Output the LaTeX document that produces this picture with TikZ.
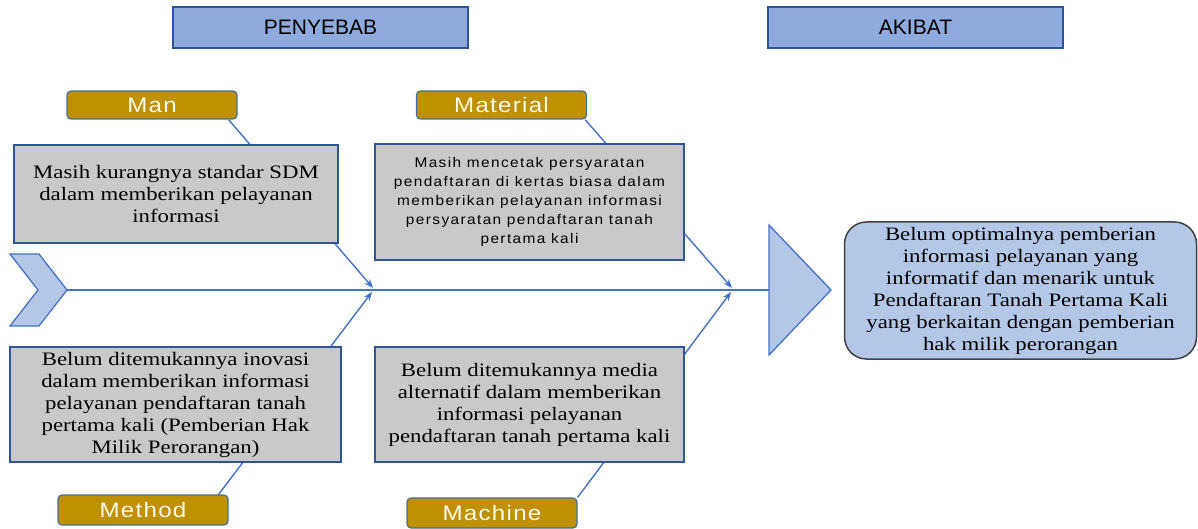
\documentclass[tikz,border=0pt]{standalone}
\usepackage{fontspec}
\setmainfont{Liberation Serif}
\newfontfamily\boxserif[FakeStretch=1.2]{Liberation Serif}
\newfontfamily\boxsans[FakeStretch=1.1,LetterSpace=10]{Liberation Sans}
\newfontfamily\labelsans[FakeStretch=1.15,LetterSpace=6]{Liberation Sans}
\newfontfamily\headsans{Liberation Sans}
\usetikzlibrary{arrows.meta,backgrounds}
\definecolor{hdrfill}{HTML}{8FAADC}
\definecolor{hdrborder}{HTML}{2F5597}
\definecolor{gold}{HTML}{BF9000}
\definecolor{lblborder}{HTML}{41719C}
\definecolor{grayfill}{HTML}{C9C9C9}
\definecolor{boxborder}{HTML}{2F5597}
\definecolor{bonecol}{HTML}{4472C4}
\definecolor{lightblue}{HTML}{B4C7E7}
\definecolor{effborder}{HTML}{404040}
\begin{document}
\begin{tikzpicture}[x=1pt,y=-1pt,
  header/.style={draw=hdrborder, line width=1.5pt, fill=hdrfill, minimum width=295pt,
    minimum height=41pt, inner sep=0pt, font=\headsans\fontsize{21}{25}\selectfont},
  cat/.style={draw=lblborder, line width=1.2pt, fill=gold, rounded corners=4pt,
    minimum width=170pt, minimum height=28pt, inner sep=0pt, text=white!95!gold,
    font=\labelsans\fontsize{21}{24}\selectfont},
  causebox/.style={draw=boxborder, line width=1.5pt, fill=grayfill, inner sep=0pt,
    align=center, font=\boxserif\fontsize{19}{22}\selectfont},
  bone/.style={draw=bonecol, line width=1.4pt},
  tip/.style={-{Stealth[length=9pt,width=7pt]}},
  shapecol/.style={draw=bonecol, line width=1.3pt, fill=lightblue, line join=miter}
]
\useasboundingbox (0,0) rectangle (1198,529);

% headers
\node[header] (penyebab) at (320.5,27.5) {PENYEBAB};
\node[header] (akibat) at (915.5,27.5) {AKIBAT};

% category labels
\node[cat] (man) at (152,105) {Man};
\node[cat] (material) at (501.5,105) {Material};
\node[cat, minimum height=30pt] (method) at (143,510) {Method};
\node[cat, minimum height=30pt] (machine) at (492,513) {Machine};

% cause boxes
\node[causebox, minimum width=324pt, minimum height=98pt] (manbox) at (176,194)
  {Masih kurangnya standar SDM\\ dalam memberikan pelayanan\\ informasi};
\node[causebox, minimum width=309pt, minimum height=116pt,
  font=\boxsans\fontsize{14}{19}\selectfont] (matbox) at (529.5,202)
  {Masih mencetak persyaratan\\ pendaftaran di kertas biasa dalam\\ memberikan pelayanan informasi\\ persyaratan pendaftaran tanah\\ pertama kali};
\node[causebox, minimum width=331pt, minimum height=115pt] (metbox) at (175.5,404.5)
  {Belum ditemukannya inovasi\\ dalam memberikan informasi\\ pelayanan pendaftaran tanah\\ pertama kali (Pemberian Hak\\ Milik Perorangan)};
\node[causebox, minimum width=309pt, minimum height=115pt] (macbox) at (529.5,404.5)
  {Belum ditemukannya media\\ alternatif dalam memberikan\\ informasi pelayanan\\ pendaftaran tanah pertama kali};

% chevron (tail) and triangle (head)
\draw[shapecol] (10,254) -- (39,254) -- (67,290) -- (39,326) -- (10,326) -- (38,290) -- cycle;
\draw[shapecol] (769,225) -- (831,290) -- (769,355) -- cycle;
\coordinate (chevtip) at (67,290);
\coordinate (trileft) at (769,290);

% effect box
\node[draw=effborder, line width=1.5pt, fill=lightblue, rounded corners=22pt,
  minimum width=352pt, minimum height=137pt, inner sep=0pt, align=center,
  font=\boxserif\fontsize{19}{22}\selectfont] (effect) at (1020.5,290.5)
  {Belum optimalnya pemberian\\ informasi pelayanan yang\\ informatif dan menarik untuk\\ Pendaftaran Tanah Pertama Kali\\ yang berkaitan dengan pemberian\\ hak milik perorangan};

% spine points
\coordinate (spAu) at (373,288);
\coordinate (spAd) at (372,292);
\coordinate (spBu) at (732,288);
\coordinate (spBd) at (731,292);

\begin{scope}[on background layer]
  \draw[bone] (chevtip) -- (trileft);
  \draw[bone,tip] ([xshift=-9pt]man.south east) -- (spAu);
  \draw[bone,tip] ([xshift=-2pt]material.south east) -- (spBu);
  \draw[bone,tip] ([xshift=-10pt]method.north east) -- (spAd);
  \draw[bone,tip] (machine.north east) -- (spBd);
\end{scope}
\end{tikzpicture}
\end{document}
